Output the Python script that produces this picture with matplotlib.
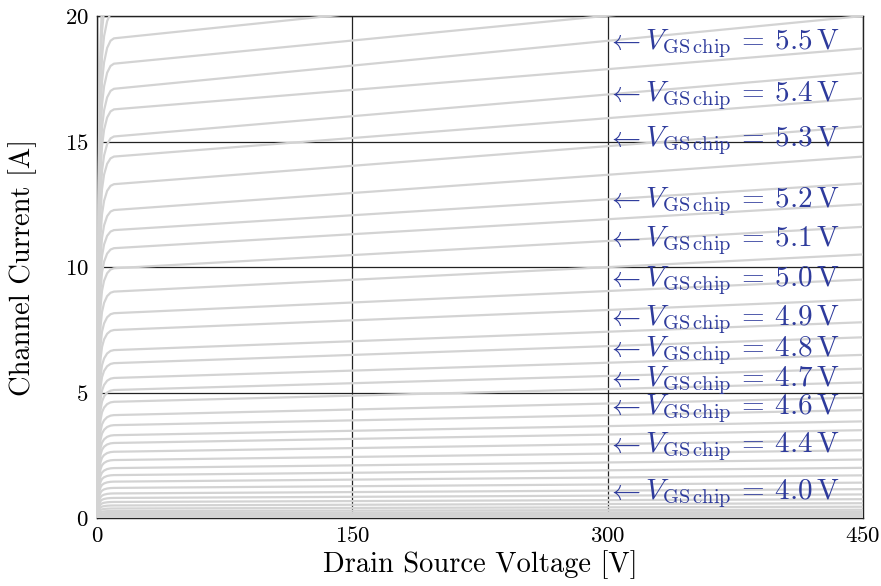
import numpy as np
import matplotlib
matplotlib.use('Agg')
import matplotlib.pyplot as plt

plt.rcParams['font.family'] = 'serif'
plt.rcParams['font.serif'] = ['cmr10', 'DejaVu Serif']
plt.rcParams['mathtext.fontset'] = 'cm'
plt.rcParams['axes.formatter.use_mathtext'] = True

# channel current read at the knee (~10 V) and at 450 V, one entry per curve (0.05 V steps)
i_knee = [22.5, 21.3, 20.2, 19.11, 18.1, 17.1, 16.28, 15.2, 14.4, 13.3, 12.27, 11.47, 10.75,
          9.95, 9.02, 8.16, 7.49, 6.69, 6.17, 5.58, 5.1, 4.63, 4.1, 3.7, 3.3, 2.99, 2.64,
          2.31, 1.99, 1.71, 1.45, 1.2, 0.98, 0.8, 0.64, 0.5, 0.38, 0.28, 0.2, 0.14, 0.09,
          0.05, 0.02]
i_end = [25.8, 24.6, 23.4, 22.2, 21.0, 20.0, 18.71, 17.74, 16.72, 15.6, 14.4, 13.33, 12.5,
         11.6, 10.5, 9.5, 8.7, 7.8, 7.2, 6.5, 5.95, 5.4, 4.8, 4.3, 3.85, 3.5, 3.1,
         2.7, 2.33, 2.0, 1.7, 1.41, 1.15, 0.94, 0.75, 0.59, 0.45, 0.33, 0.24, 0.17, 0.11,
         0.06, 0.025]

# shared knee shape (fraction of knee current vs drain voltage)
knee_v = [0, 0.4, 0.8, 1.2, 1.6, 2.2, 3.0, 4.2, 6.0, 8.0, 10.0]
knee_f = [0, 0.3, 0.52, 0.66, 0.76, 0.85, 0.91, 0.95, 0.98, 0.995, 1.0]

# label arrows (V_GS chip and current level at 300 V)
lab_vgs = ['5.5', '5.4', '5.3', '5.2', '5.1', '5.0', '4.9', '4.8', '4.7', '4.6', '4.4', '4.0']
lab_i = [19.04, 16.97, 15.19, 12.74, 11.21, 9.61, 8.06, 6.83, 5.6, 4.5, 2.98, 1.12]

fig = plt.figure(figsize=(8.81, 5.86), dpi=100)
ax = fig.add_axes([0.110, 0.116, 0.8696, 0.8567])

for ik, ie in zip(i_knee, i_end):
    vds = knee_v + [450]
    cur = [f*ik for f in knee_f] + [ie]
    ax.plot(vds, cur, color='#d3d3d3', lw=1.6, zorder=2, solid_capstyle='butt')

for vg, yi in zip(lab_vgs, lab_i):
    ax.annotate(r'$\leftarrow V_{\mathrm{GS\,chip}}\,=\:%s\,\mathrm{V}$' % vg, xy=(300, yi),
                xytext=(-1, -6.5), textcoords='offset points', ha='left', va='baseline',
                fontsize=21, color='#2e3b9c', zorder=3)

ax.set_xlim(0, 450)
ax.set_ylim(0, 20)
ax.set_xticks([0, 150, 300, 450])
ax.set_yticks([0, 5, 10, 15, 20])
ax.grid(True, color='#222222', lw=0.9)
ax.set_axisbelow(True)
for s in ax.spines.values():
    s.set_color('#222222')
    s.set_linewidth(1.0)
    s.set_zorder(1)
ax.tick_params(length=0, labelsize=16.5, pad=6)
ax.set_xlabel('Drain Source Voltage [V]', fontsize=20.5, labelpad=3)
ax.set_ylabel('Channel Current [A]', fontsize=20.5, labelpad=20)

fig.savefig('out.png', dpi=100)
